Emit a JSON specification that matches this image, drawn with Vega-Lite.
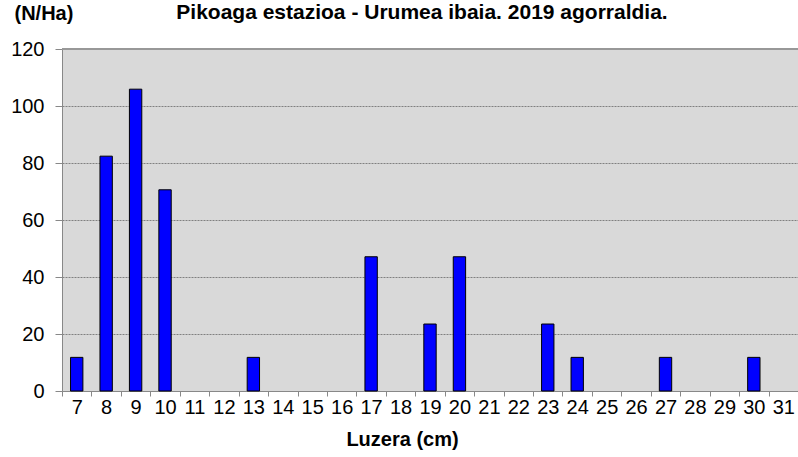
{
  "$schema": "https://vega.github.io/schema/vega-lite/v6.json",
  "width": 736,
  "height": 342,
  "autosize": {"type": "none"},
  "padding": {"left": 62, "top": 49, "right": 0, "bottom": 66},
  "background": "#ffffff",
  "title": {
    "text": "Pikoaga estazioa - Urumea ibaia. 2019 agorraldia.",
    "font": "Liberation Sans",
    "fontSize": 21,
    "fontWeight": "bold",
    "color": "#000000",
    "anchor": "middle",
    "dx": -8,
    "baseline": "alphabetic",
    "offset": 0,
    "dy": 37
  },
  "config": {
    "view": {"fill": "#d9d9d9", "stroke": null},
    "axis": {"labelFont": "Liberation Sans", "titleFont": "Liberation Sans"}
  },
  "data": {
    "values": [
      {"luzera": 7, "n": 11.8},
      {"luzera": 8, "n": 82.4},
      {"luzera": 9, "n": 105.9},
      {"luzera": 10, "n": 70.6},
      {"luzera": 13, "n": 11.8},
      {"luzera": 17, "n": 47.1},
      {"luzera": 19, "n": 23.5},
      {"luzera": 20, "n": 47.1},
      {"luzera": 23, "n": 23.5},
      {"luzera": 24, "n": 11.8},
      {"luzera": 27, "n": 11.8},
      {"luzera": 30, "n": 11.8}
    ]
  },
  "layer": [
    {
      "mark": {"type": "bar", "color": "#0000ff", "stroke": "#000000", "strokeWidth": 1, "width": {"band": 0.42}},
      "encoding": {
        "x": {
          "field": "luzera",
          "type": "ordinal",
          "scale": {"domain": [7,8,9,10,11,12,13,14,15,16,17,18,19,20,21,22,23,24,25,26,27,28,29,30,31], "paddingInner": 0, "paddingOuter": 0},
          "axis": {
            "title": "Luzera (cm)",
            "titleFontSize": 20,
            "titleFontWeight": "bold",
            "titleColor": "#000000",
            "titleX": 340,
            "titlePadding": 12,
            "labelAngle": 0,
            "labelFontSize": 20,
            "labelColor": "#000000",
            "labelPadding": 1,
            "tickBand": "extent",
            "tickSize": 5,
            "tickColor": "#888888",
            "domainColor": "#888888",
            "grid": false
          }
        },
        "y": {
          "field": "n",
          "type": "quantitative",
          "scale": {"domain": [0, 120], "nice": false},
          "axis": {
            "title": "(N/Ha)",
            "titleAngle": 0,
            "titleAlign": "left",
            "titleBaseline": "alphabetic",
            "titleX": -48,
            "titleY": -30,
            "titleFontSize": 20,
            "titleFontWeight": "bold",
            "titleColor": "#000000",
            "values": [0, 20, 40, 60, 80, 100, 120],
            "labelFontSize": 20,
            "labelColor": "#000000",
            "labelPadding": 11,
            "tickSize": 7,
            "tickColor": "#888888",
            "domainColor": "#888888",
            "grid": true,
            "gridColor": "#808080",
            "gridDash": [2, 1],
            "gridWidth": 1
          }
        }
      }
    },
    {
      "mark": {"type": "rule", "color": "#999999", "strokeWidth": 1.5},
      "encoding": {"y": {"datum": 120}}
    }
  ]
}
